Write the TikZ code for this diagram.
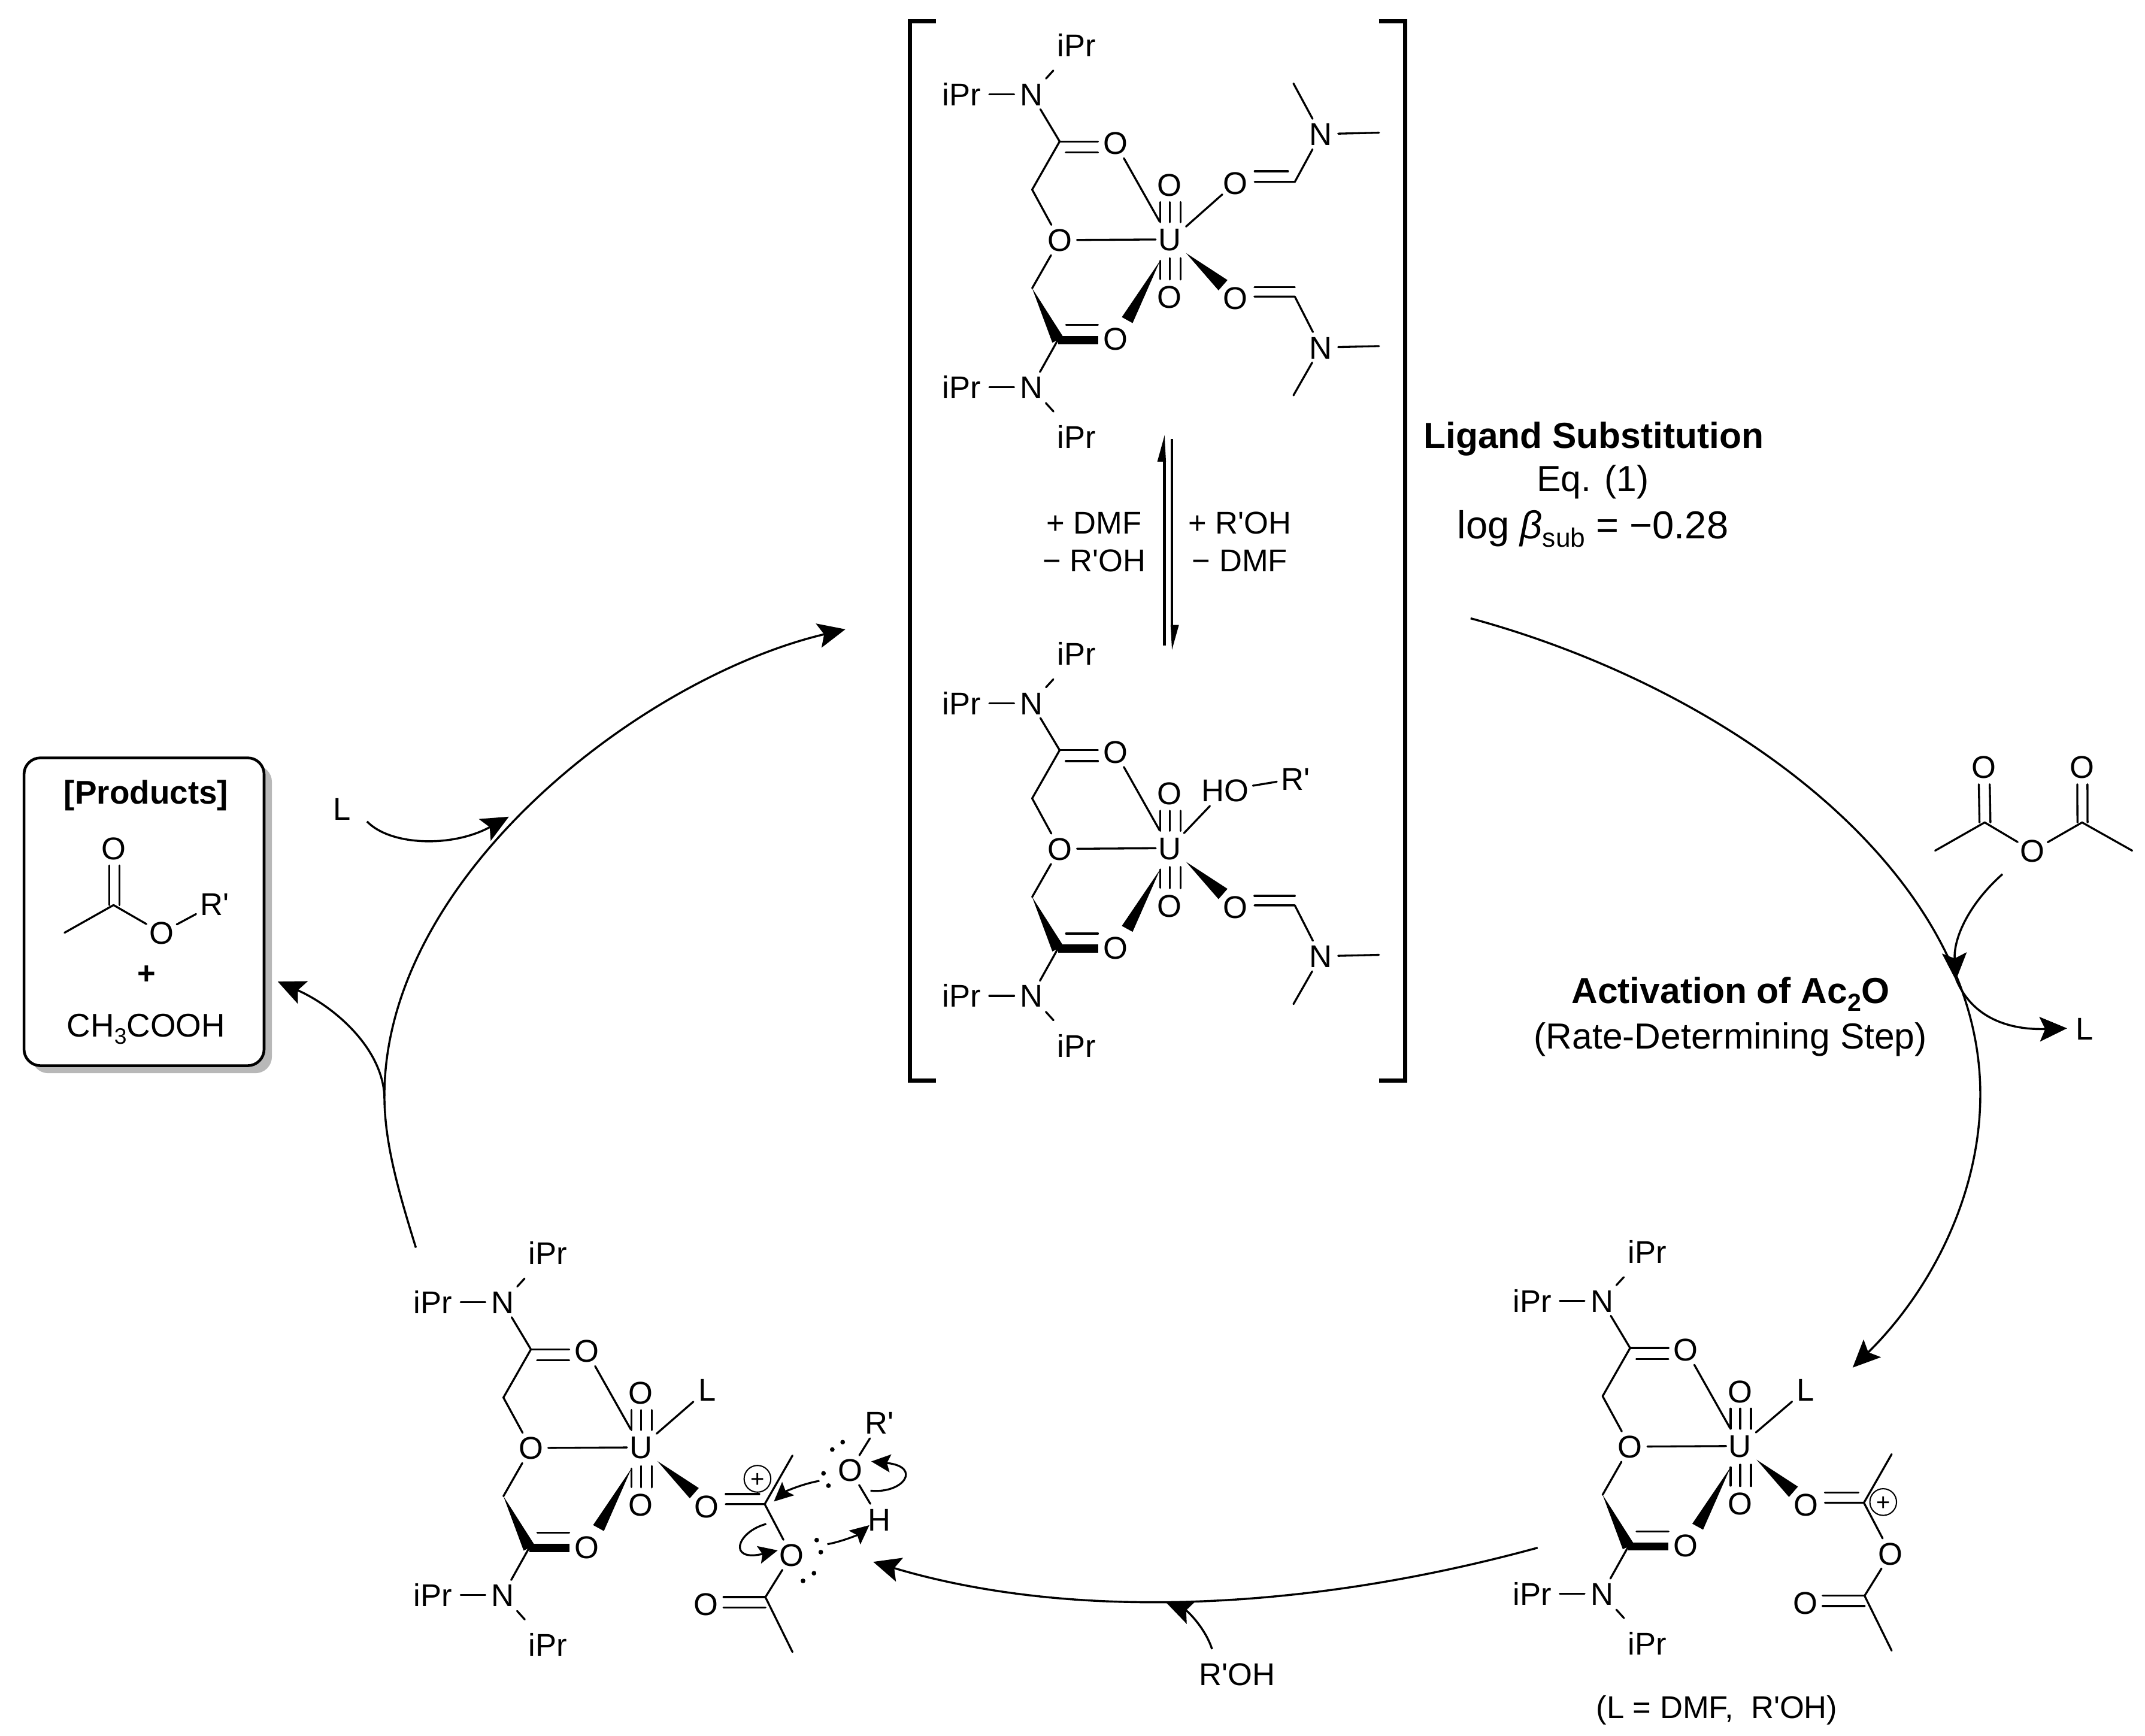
\documentclass[tikz,border=0pt]{standalone}
\usepackage{fontspec}
\setmainfont{Liberation Sans}[Ligatures=TeXOff]
\usetikzlibrary{arrows.meta,calc}
\newcommand\chemf{\fontsize{23}{26}\selectfont}
\newcommand\bigf{\fontsize{26.5}{30}\selectfont}
\newcommand\subtx[1]{\raisebox{-.22em}{\scalebox{.68}{#1}}}
\newcommand\wedgeb[3]{\fill (#1) -- ($(#2)!#3!90:(#1)$) -- ($(#2)!#3!-90:(#1)$) -- cycle;}
\tikzset{
  atom/.style={circle,inner sep=0pt,minimum size=25pt,text height=16.5pt,text depth=0pt,font=\chemf},
  uatom/.style={atom,minimum size=30pt},
  ipr/.style={atom,minimum size=40pt},
  lab/.style={rectangle,inner sep=3pt,text height=16.5pt,text depth=0pt,font=\chemf},
  biglab/.style={rectangle,inner sep=0pt,text height=19pt,text depth=0pt,font=\bigf},
  bond/.style={line width=1.45pt,line cap=round,line join=round},
  boldbond/.style={line width=6pt,line cap=butt},
  bracketline/.style={line width=3pt,line cap=butt,line join=miter},
  eqline/.style={line width=2pt,line cap=butt},
  mainarrow/.style={line width=1.5pt,-{Stealth[length=20pt,width=18pt,inset=4pt]}},
  smallarrow/.style={line width=1.4pt,-{Stealth[length=14pt,width=13pt,inset=2.5pt]}},
  lpdot/.style={circle,fill=black,inner sep=0pt,minimum size=3.4pt},
  charge/.style={circle,draw,line width=.9pt,inner sep=0pt,minimum size=19.5pt,text height=12.4pt,text depth=0pt,font=\fontsize{17.5}{20}\selectfont},
  uranyl/.pic={
    \node[uatom] (U) at (0,0) {U};
    \node[atom] (Oa) at (0,-40) {O};
    \node[atom] (Ob) at (0,42) {O};
    \node[atom] (Oe) at (-80.4,0.5) {O};
    \node[atom] (Oc) at (-39.7,-70.4) {O};
    \node[atom] (Od) at (-39.7,72.8) {O};
    \node[atom] (Or) at (48,43) {O};
    \node[atom] (Nt) at (-101,-106) {N};
    \node[atom] (Nb) at (-101,108) {N};
    \node[ipr] (It) at (-68,-142) {iPr};
    \node[ipr] (Il) at (-152,-106) {iPr};
    \node[ipr] (Ib) at (-68,144.5) {iPr};
    \node[ipr] (Im) at (-152,108) {iPr};
    \coordinate (Ca) at (-100.5,-36.4);
    \coordinate (Cb) at (-80.4,-71.6);
    \coordinate (Cc) at (-100.5,35.7);
    \coordinate (Cd) at (-81.7,73.5);
    \coordinate (W1t) at (-7,15.6);
    \coordinate (W1e) at (-31,59);
    \coordinate (W2t) at (12,10);
    \coordinate (W2e) at (39,33.5);
    \foreach \d in {-7,0,8} {
      \draw[bond,shorten >=-2.6pt] ([xshift=\d pt]Oa.south) -- ([xshift=\d pt]U.north);
    }
    \foreach \d in {0,8} {
      \draw[bond,shorten >=-1.5pt] ([xshift=\d pt]Ob.north) -- ([xshift=\d pt]U.south);
    }
    \draw[bond] (-7,29) -- (W1t);
    \draw[bond,shorten >=-5pt] (Oe) -- (U);
    \draw[bond] (Oc) -- (U);
    \draw[bond] (Oe) -- (Ca) -- (Cb) -- (Nt);
    \draw[bond] (Cb) -- (Cb -| Oc.west);
    \draw[bond] ([xshift=4.5pt,yshift=-8pt]Cb) -- ([yshift=-8pt]Cb -| Oc.west);
    \draw[bond] (Nt) -- (Il);
    \draw[bond,shorten <=3pt,shorten >=5pt] (Nt) -- (It);
    \draw[bond] (Oe) -- (Cc);
    \wedgeb{Cc}{Cd}{4.5pt}
    \draw[boldbond] (Cd) -- (Cd -| Od.west);
    \draw[bond] ([xshift=6pt,yshift=11pt]Cd) -- ([yshift=11pt]Cd -| Od.west);
    \draw[bond] (Cd) -- (Nb);
    \draw[bond] (Nb) -- (Im);
    \draw[bond,shorten <=3pt,shorten >=5pt] (Nb) -- (Ib);
    \wedgeb{W1t}{W1e}{4.5pt}
    \wedgeb{W2t}{W2e}{5pt}
  },
  dmfup/.pic={
    \coordinate (s) at (12,-9.4);
    \node[atom] (O) at (48,-41.3) {O};
    \coordinate (C) at (91.5,-42);
    \node[atom] (N) at (110.5,-77) {N};
    \coordinate (M1) at (153,-78);
    \coordinate (M2) at (90.5,-114);
    \draw[bond] (s) -- (O);
    \draw[bond,shorten <=1.5pt] (O.east |- C) -- (C) -- (N);
    \draw[bond,shorten <=1.5pt] ([yshift=7.8pt]O.east |- C) -- ([yshift=7.8pt,xshift=-5pt]C);
    \draw[bond] (N) -- (M1);
    \draw[bond] (N) -- (M2);
  },
  dmflow/.pic={
    \coordinate (a) at (62,41.8);
    \coordinate (C) at (91.5,41.8);
    \node[atom] (N) at (110.5,79) {N};
    \coordinate (M1) at (153,78);
    \coordinate (M2) at (90.5,114);
    \draw[bond] (a) -- (C) -- (N);
    \draw[bond] ([yshift=7pt]a) -- ([yshift=7pt]C);
    \draw[bond] (N) -- (M1);
    \draw[bond] (N) -- (M2);
  },
  acylium/.pic={
    \coordinate (a) at (62,41.5);
    \coordinate (C) at (90.5,41.5);
    \coordinate (M1) at (110.8,6);
    \node[atom] (O) at (110.1,78.8) {O};
    \coordinate (C2) at (91,109.5);
    \node[atom] (O2) at (47.7,114.5) {O};
    \coordinate (M2) at (110.8,149.6);
    \draw[bond] (a) -- (C) -- (O);
    \draw[bond] ([yshift=7.3pt]a) -- ([yshift=7.3pt,xshift=-4pt]C);
    \draw[bond] (C) -- (M1);
    \draw[bond] (O) -- (C2) -- (M2);
    \draw[bond] (C2) -- (C2 -| O2.east);
    \draw[bond] ([yshift=-7.5pt]C2) -- ([yshift=-7.5pt]C2 -| O2.east);
  }
}
\begin{document}
\begin{tikzpicture}[x=1pt,y=-1pt]
\useasboundingbox (0,0) rectangle (1568,1268.6);
\fill[white] (0,0) rectangle (1568,1268.6);

% products box
\node[rectangle,rounded corners=12pt,fill=black!28,minimum width=175.5pt,minimum height=225pt,inner sep=0pt] (boxshadow) at (111,672) {};
\node[rectangle,rounded corners=12pt,draw,line width=2pt,fill=white,minimum width=175.5pt,minimum height=225pt,inner sep=0pt] (box) at (105.3,666.5) {};
\node[lab,font=\fontsize{24}{26}\selectfont\bfseries] (prodtitle) at (106.8,579.5) {[Products]};
\node[atom] (pO) at (83,620) {O};
\coordinate (pC) at (83,661.6);
\coordinate (pM) at (47.2,681.8);
\node[atom] (pE) at (118,681.8) {O};
\node[lab] (pR) at (157,660.8) {R'};
\draw[bond] ([xshift=-3pt]pO.south) -- ([xshift=-3pt]pC);
\draw[bond] ([xshift=4.4pt]pO.south) -- ([xshift=4.4pt]pC);
\draw[bond] (pM) -- (pC) -- (pE);
\draw[bond] (pE) -- (pR);
\node[lab,font=\chemf\bfseries] (pplus) at (107,711) {+};
\node[lab,font=\fontsize{24}{26}\selectfont] (pacid) at (106.8,749.6) {CH\subtx{3}COOH};

% top complex
\pic (top) at (855,175) {uranyl};
\pic (topa) at (855,175) {dmfup};
\pic (topb) at (855,175) {dmflow};

% middle complex
\pic (mid) at (855,620) {uranyl};
\pic (midb) at (855,620) {dmflow};
\node[lab] (midHO) at (895.4,577.7) {HO};
\node[lab] (midR) at (947,569.2) {R'};
\draw[bond] (midU) -- (midHO);
\draw[bond] (midHO) -- (midR);

% brackets
\coordinate (bl1) at (684,15.6); \coordinate (bl2) at (665,15.6);
\coordinate (bl3) at (665,790); \coordinate (bl4) at (684,790);
\coordinate (br1) at (1008,15.6); \coordinate (br2) at (1027.3,15.6);
\coordinate (br3) at (1027.3,790); \coordinate (br4) at (1008,790);
\draw[bracketline] (bl1) -- (bl2) -- (bl3) -- (bl4);
\draw[bracketline] (br1) -- (br2) -- (br3) -- (br4);

% equilibrium
\coordinate (eqa) at (851.3,472.1); \coordinate (eqb) at (851.3,318.2);
\coordinate (eqc) at (856.7,321); \coordinate (eqd) at (856.7,475);
\draw[eqline] (eqa) -- ([yshift=-18pt]eqb);
\fill (eqb) -- (846,337.4) -- (852.3,337.4) -- cycle;
\draw[eqline] (eqc) -- ([yshift=18pt]eqd);
\fill (eqd) -- (861.8,456.8) -- (855.7,456.8) -- cycle;
\node[lab] (eq1) at (799.8,382) {+ DMF};
\node[lab] (eq2) at (799.8,409.7) {− R'OH};
\node[lab] (eq3) at (906.3,382) {+ R'OH};
\node[lab] (eq4) at (906.3,409.7) {− DMF};

% labels
\node[biglab,font=\bigf\bfseries] (t1) at (1165,318.2) {Ligand Substitution};
\node[biglab] (t2) at (1164.4,349.5) {Eq. (1)};
\node[biglab,text height=20.5pt,font=\fontsize{28.5}{32}\selectfont] (t3) at (1164.4,383.5) {log {\itshape β}\subtx{sub} = −0.28};
\node[biglab,font=\bigf\bfseries] (t4) at (1265,724) {Activation of Ac\subtx{2}O};
\node[biglab] (t5) at (1265,757) {(Rate-Determining Step)};

% bottom right complex
\pic (br) at (1272,1057) {uranyl};
\pic (bra) at (1272,1057) {acylium};
\node[atom,minimum size=26pt] (brL) at (1320,1016) {L};
\draw[bond] (brU) -- (brL);
\node[charge] (brplus) at (1376.6,1098) {+};
\node[lab] (brnote) at (1255,1248) {(L = DMF,\hspace{.28em} R'OH)};

% bottom left complex
\pic (bl) at (468.5,1058) {uranyl};
\pic (bla) at (468.5,1058) {acylium};
\node[atom,minimum size=26pt] (blL) at (516.8,1016) {L};
\draw[bond] (blU) -- (blL);
\node[charge] (blplus) at (553.7,1081) {+};
\node[atom] (blO) at (621.5,1074.6) {O};
\node[lab] (blR) at (643,1040) {R'};
\node[lab] (blH) at (643,1110.7) {H};
\draw[bond] (blO) -- (blR);
\draw[bond] (blO) -- (blH);
\foreach \n/\x/\y in {a/608.4/1059.6,b/616/1054.2,c/602/1077,d/605.6/1086,e/597/1125.8,f/600/1134.6,g/587/1155.6,h/595/1150} {
  \node[lpdot] (dot\n) at (\x,\y) {};
}
% electron-pushing arrows
\coordinate (a1) at (599,1082.5); \coordinate (a2) at (565.7,1097.6);
\draw[smallarrow] (a1) .. controls (585,1085) and (573,1091) .. (a2);
\coordinate (b1) at (636.3,1089.7); \coordinate (b2) at (636.9,1068.3);
\draw[smallarrow] (b1) .. controls (661,1092) and (674,1072) .. (b2);
\coordinate (c1) at (604.8,1128.8); \coordinate (c2) at (635.5,1114.9);
\draw[smallarrow] (c1) .. controls (615,1127) and (627,1122) .. (c2);
\coordinate (d1) at (560.1,1114); \coordinate (d2) at (568.5,1133.3);
\draw[smallarrow] (d1) .. controls (538,1120) and (532,1142) .. (d2);

% acetic anhydride
\node[atom] (aO1) at (1450.3,560.6) {O};
\node[atom] (aO2) at (1521.9,560.6) {O};
\node[atom] (aO) at (1485.8,622) {O};
\coordinate (aC1) at (1450.8,601.2);
\coordinate (aC2) at (1522,601.2);
\coordinate (aM1) at (1414.6,621.8);
\coordinate (aM2) at (1558.6,621.8);
\draw[bond] ([xshift=-3.8pt]aO1.south) -- ([xshift=-3.8pt]aC1);
\draw[bond] ([xshift=4.2pt]aO1.south) -- ([xshift=4.2pt]aC1);
\draw[bond] ([xshift=-3.4pt]aO2.south) -- ([xshift=-3.4pt]aC2);
\draw[bond] ([xshift=4pt]aO2.south) -- ([xshift=4pt]aC2);
\draw[bond] (aM1) -- (aC1) -- (aO);
\draw[bond] (aO) -- (aC2) -- (aM2);

% cycle arrows
\coordinate (m1) at (304,912); \coordinate (m2) at (281,801); \coordinate (m3) at (618,460);
\draw[mainarrow] (m1) .. controls (291,870) and (281,835) .. (m2) .. controls (281,640) and (470,495) .. (m3);
\coordinate (p1) at (203,717.5);
\draw[mainarrow] (m2) .. controls (279,765) and (243,735) .. (p1);
\node[lab] (inL) at (250,591.3) {L};
\coordinate (i1) at (268.3,600.5); \coordinate (i2) at (372,597);
\draw[mainarrow] (i1) .. controls (285,618) and (330,620) .. (i2);

\coordinate (r1) at (1075,452); \coordinate (r2) at (1447.6,800); \coordinate (r3) at (1354.3,999.7);
\draw[mainarrow] (r1) .. controls (1270,505) and (1447.6,640) .. (r2) .. controls (1447.6,875) and (1410,945) .. (r3);
\coordinate (q1) at (1463.8,639); \coordinate (q2) at (1429.7,716.6);
\draw[mainarrow] (q1) .. controls (1440,660) and (1428,685) .. (q2);
\node[lab] (outL) at (1524,751.7) {L};
\coordinate (o1) at (1430,716); \coordinate (o2) at (1511,751.7);
\draw[mainarrow] (o1) .. controls (1442,745) and (1470,753) .. (o2);

\coordinate (s1) at (1124,1131.4); \coordinate (s2) at (638.3,1141.7);
\draw[mainarrow] (s1) .. controls (950,1179) and (780,1184) .. (s2);
\node[lab] (roh) at (904.3,1223.8) {R'OH};
\coordinate (t1a) at (886,1205.5); \coordinate (t2a) at (852.2,1171.2);
\draw[mainarrow] (t1a) .. controls (881,1190) and (868,1177.5) .. (t2a);
\end{tikzpicture}
\end{document}
